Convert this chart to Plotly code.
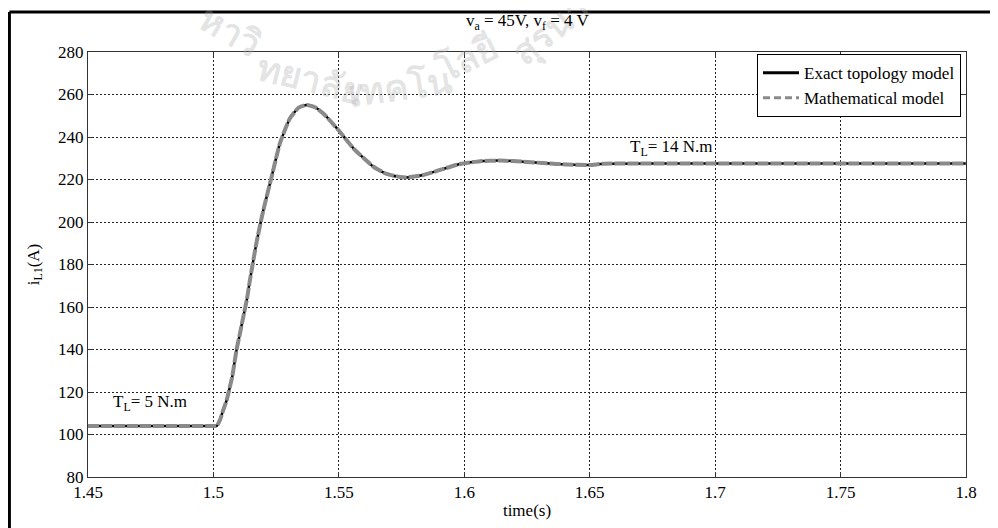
import plotly.graph_objects as go

# ---- data ----
time_s = [1.45, 1.47, 1.49, 1.500, 1.5013, 1.5026, 1.5039, 1.5053, 1.5062, 1.5075,
          1.5092, 1.5106, 1.5119, 1.5133, 1.5146, 1.5172, 1.5199, 1.5232, 1.5265,
          1.5305, 1.5340, 1.5372, 1.5405, 1.5438, 1.5498, 1.5558, 1.5638, 1.5691,
          1.5744, 1.5770, 1.5837, 1.5903, 1.5983, 1.6063, 1.6142, 1.6235, 1.6328,
          1.6408, 1.6501, 1.6554, 1.70, 1.75, 1.80]
i_exact = [104.0, 104.0, 104.0, 104.0, 104.0, 106.8, 111.5, 116.2, 120.6, 127.2,
           139.8, 147.6, 155.4, 163.3, 173.0, 190.5, 205.6, 221.3, 237.0,
           248.8, 253.8, 255.1, 254.0, 251.1, 243.3, 234.7, 226.0, 222.6,
           221.2, 221.0, 222.1, 224.5, 227.3, 228.6, 228.9, 228.4, 227.6,
           227.1, 226.8, 227.4, 227.5, 227.5, 227.5]
i_math = list(i_exact)

series_names = ["Exact topology model", "Mathematical model"]
x_ticks = [1.45, 1.5, 1.55, 1.6, 1.65, 1.7, 1.75, 1.8]
x_tick_text = ["1.45", "1.5", "1.55", "1.6", "1.65", "1.7", "1.75", "1.8"]
y_ticks = [80, 100, 120, 140, 160, 180, 200, 220, 240, 260, 280]

FONT = "Liberation Serif"

fig = go.Figure()
fig.add_trace(go.Scatter(x=time_s, y=i_exact, mode="lines", name=series_names[0],
                         line=dict(color="black", width=2.5, shape="spline", smoothing=0.5),
                         showlegend=False))
fig.add_trace(go.Scatter(x=time_s, y=i_math, mode="lines", name=series_names[1],
                         line=dict(color="#8a8a8a", width=4, dash="11px,2px",
                                   shape="spline", smoothing=0.5),
                         showlegend=False))
# legend entries
fig.add_trace(go.Scatter(x=[None], y=[None], mode="lines", name=series_names[0],
                         line=dict(color="black", width=3)))
fig.add_trace(go.Scatter(x=[None], y=[None], mode="lines", name=series_names[1],
                         line=dict(color="#8a8a8a", width=3, dash="7px,4px")))

axis_common = dict(showline=True, linecolor="#333", linewidth=1, mirror="ticks",
                   ticks="inside", ticklen=5, tickcolor="#333",
                   showgrid=True, gridcolor="#222", gridwidth=1, griddash="2px,2px",
                   zeroline=False, tickfont=dict(family=FONT, size=17, color="black"))

fig.update_xaxes(range=[1.45, 1.8], tickvals=x_ticks, ticktext=x_tick_text,
                 title=dict(text="time(s)", font=dict(family=FONT, size=17, color="black"),
                            standoff=2),
                 **axis_common)
fig.update_yaxes(range=[80, 280], tickvals=y_ticks,
                 title=dict(text="i<sub>L1</sub>(A)", font=dict(family=FONT, size=17, color="black"),
                            standoff=14),
                 **axis_common)

def px2paper(px, py):
    return (px - 88) / 878.0, (477 - py) / 425.0

annotations = []

# faint watermark (Thai), placed in reference pixel coordinates
wm = [("หาวิ", 230, 32, 30), ("ทยาลัย", 310, 80, 14),
      ("เทคโน", 400, 87, -8), ("โลยี", 466, 58, -26), ("สุรนา", 552, 32, -40)]
for txt, cx, cy, ang in wm:
    px, py = px2paper(cx, cy)
    annotations.append(dict(text="<b>" + txt + "</b>", xref="paper", yref="paper", x=px, y=py,
                            xanchor="center", yanchor="middle", showarrow=False,
                            textangle=ang, font=dict(size=36, color="rgba(170,170,170,0.33)")))

annotations += [
    dict(text="v<sub>a</sub> = 45V, v<sub>f</sub> = 4 V", xref="paper", yref="paper",
         x=0.5, y=1.04, xanchor="center", yanchor="bottom", showarrow=False,
         font=dict(family=FONT, size=17, color="black")),
    dict(text="T<sub>L</sub>= 5 N.m", xref="x", yref="y", x=1.4592, y=115,
         xanchor="left", yanchor="middle", showarrow=False,
         font=dict(family=FONT, size=17, color="black")),
    dict(text="T<sub>L</sub>= 14 N.m", xref="x", yref="y", x=1.6653, y=235,
         xanchor="left", yanchor="middle", showarrow=False,
         font=dict(family=FONT, size=17, color="black")),
]

# the page body adds an 8px offset, so the figure is 8px smaller and margins shifted
fig.update_layout(
    width=990, height=520,
    margin=dict(l=80, r=32, t=44, b=51),
    paper_bgcolor="white", plot_bgcolor="white",
    font=dict(family=FONT, color="black"),
    legend=dict(x=0.9943, y=0.995, xanchor="right", yanchor="top",
                bgcolor="white", bordercolor="black", borderwidth=1,
                font=dict(family=FONT, size=17, color="black"),
                tracegroupgap=0, itemwidth=36),
    annotations=annotations,
    shapes=[
        dict(type="line", xref="paper", yref="paper", x0=-0.0895, x1=1.05, y0=1.0941, y1=1.0941,
             line=dict(color="black", width=3)),
        dict(type="line", xref="paper", yref="paper", x0=-0.0895, x1=-0.0895, y0=1.0941, y1=-0.13,
             line=dict(color="black", width=3)),
    ],
)

fig.write_html("out.html")
